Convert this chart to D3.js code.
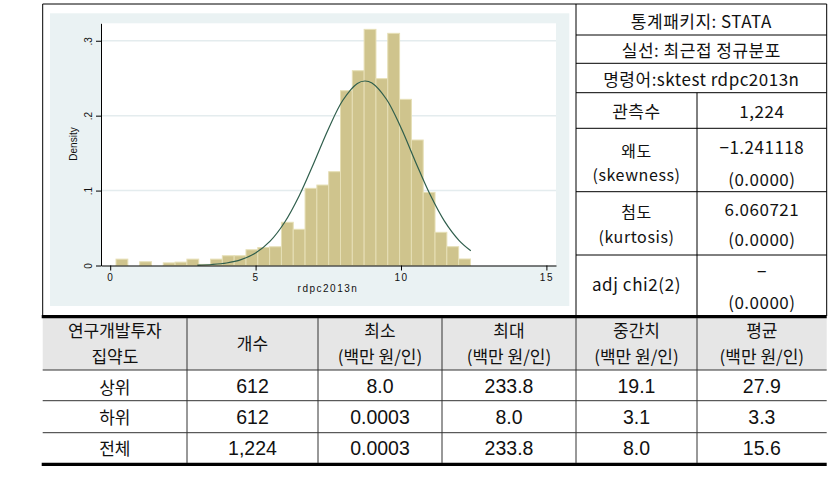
<!DOCTYPE html>
<html><head><meta charset="utf-8">
<script src="https://cdn.jsdelivr.net/npm/d3@7"></script>
<style>body{margin:0;background:#fff}svg{display:block}</style>
</head><body><svg id="c" width="839" height="491"></svg>
<script>
// ---------- data ----------
const binStart = 0.2;
const binWidth = 0.4063;
const densities = [0.0085,0,0.005,0,0.0035,0.0045,0.0085,0.0015,0.0085,0.013,0.013,0.021,0.024,0.025,0.0577,0.0483,0.103,0.1074,0.1252,0.2333,0.26,0.3152,0.2494,0.3099,0.2218,0.1675,0.0976,0.0443,0.0251,0.0087];
const curveX = [3,3.5,4,4.5,5,5.5,6,6.5,7,7.5,8,8.5,8.76,9,9.5,10,10.5,11,11.5,12,12.4];
const curveY = [0.0004,0.0013,0.0033,0.0078,0.0167,0.0325,0.0577,0.0931,0.1365,0.182,0.2206,0.2431,0.2463,0.2436,0.2219,0.1838,0.1383,0.0947,0.0589,0.0333,0.0197];
const xTicks = [0,5,10,15];
const yTicks = [0,0.1,0.2,0.3];
const yTickLabels = ["0",".1",".2",".3"];
const xTitle = "rdpc2013n";
const yTitle = "Density";

const infoRows = ["통계패키지: STATA","실선: 최근접 정규분포","명령어:sktest rdpc2013n"];
const statLabels = [["관측수"],["왜도","(skewness)"],["첨도","(kurtosis)"],["adj chi2(2)"]];
const statValues = [["1,224"],["−1.241118","(0.0000)"],["6.060721","(0.0000)"],["−","(0.0000)"]];

const colHeaders = [["연구개발투자","집약도"],["개수"],["최소","(백만 원/인)"],["최대","(백만 원/인)"],["중간치","(백만 원/인)"],["평균","(백만 원/인)"]];
const groups = ["상위","하위","전체"];
const counts = ["612","612","1,224"];
const minVals = ["8.0","0.0003","0.0003"];
const maxVals = ["233.8","8.0","233.8"];
const medVals = ["19.1","3.1","8.0"];
const meanVals = ["27.9","3.3","15.6"];

// ---------- layout ----------
const svg = d3.select("#c");
const KR = "'Noto Sans CJK KR', sans-serif";
const LAT = "'Liberation Sans', Arial, sans-serif";
const L = 42.7, R = 826.7, TOP = 4, MID = 576, SPLIT = 697;

// graph panel
svg.append("rect").attr("x",50).attr("y",13.3).attr("width",519.3).attr("height",292.7).attr("fill","#eaf2f3");
const pl = 101, pr = 556, pt = 23.3, pb = 265.5;
svg.append("rect").attr("x",pl).attr("y",pt).attr("width",pr-pl).attr("height",pb-pt).attr("fill","#fff");

const x = d3.scaleLinear().domain([-0.316,15.33]).range([pl,pr]);
const y = d3.scaleLinear().domain([0,0.3233]).range([pb,pt]);

// gridlines
svg.append("g").selectAll("line").data(yTicks.filter(d=>d>0)).join("line")
  .attr("x1",pl).attr("x2",pr).attr("y1",d=>y(d)).attr("y2",d=>y(d))
  .attr("stroke","#e4ecee").attr("stroke-width",1.5);

// bars
svg.append("g").selectAll("rect").data(densities).join("rect")
  .attr("x",(d,i)=>x(binStart+i*binWidth))
  .attr("width",(d,i)=>x(binStart+(i+1)*binWidth)-x(binStart+i*binWidth))
  .attr("y",d=>y(d)).attr("height",d=>y(0)-y(d))
  .attr("fill","#cfc48d").attr("stroke","#e6dfb6").attr("stroke-width",1)
  .attr("display",d=>d>0?null:"none");

// normal curve
const pts = curveX.map((v,i)=>[v,curveY[i]]);
svg.append("path").datum(pts)
  .attr("d",d3.line().x(d=>x(d[0])).y(d=>y(d[1])).curve(d3.curveCatmullRom))
  .attr("fill","none").attr("stroke","#2f5e4c").attr("stroke-width",1.2);

// axes
const gx = svg.append("g").attr("transform",`translate(0,${pb})`)
  .call(d3.axisBottom(x).tickValues(xTicks).tickSize(5).tickSizeOuter(0).tickFormat(d3.format("d")));
gx.selectAll("text").attr("y",12).attr("dy",null).attr("dominant-baseline","central")
  .attr("font-family",LAT).attr("font-size",10).attr("letter-spacing",1.5).attr("fill","#111");
const gy = svg.append("g").attr("transform",`translate(${pl},0)`)
  .call(d3.axisLeft(y).tickValues(yTicks).tickSize(5).tickSizeOuter(0).tickFormat((d,i)=>yTickLabels[i]));
gy.selectAll("text").attr("x",null).attr("dy",null)
  .attr("transform","translate(-13,0) rotate(-90)").attr("text-anchor","middle").attr("dominant-baseline","central")
  .attr("font-family",LAT).attr("font-size",10).attr("fill","#111");
svg.selectAll(".domain, .tick line").attr("stroke","#000");

svg.append("text").attr("x",328).attr("y",288.5).attr("text-anchor","middle").attr("dominant-baseline","central")
  .attr("font-family",LAT).attr("font-size",10).attr("letter-spacing",1.5).attr("fill","#111").text(xTitle);
svg.append("text").attr("transform","translate(73.5,144) rotate(-90)").attr("text-anchor","middle").attr("dominant-baseline","central")
  .attr("font-family",LAT).attr("font-size",10).attr("fill","#111").text(yTitle);

// ---------- right info table ----------
const ln = (x1,y1,x2,y2,w=1,c="#000")=>svg.append("line").attr("x1",x1).attr("y1",y1).attr("x2",x2).attr("y2",y2).attr("stroke",c).attr("stroke-width",w);
ln(L,TOP,R,TOP);
ln(L,TOP,L,316);
ln(MID,TOP,MID,316);
ln(R,TOP,R,316);
const hLines = [35,63.3,92.7,128.3,191.7,255];
hLines.forEach(v=>ln(MID,v,R,v));
ln(SPLIT,92.7,SPLIT,316);

const txt = (s,cx,cy,size,fam,ls=0)=>svg.append("text").attr("x",cx).attr("y",cy)
  .attr("text-anchor","middle").attr("dominant-baseline","central")
  .attr("font-family",fam).attr("font-size",size).attr("letter-spacing",ls).attr("fill","#111").text(s);

const infoY = [20,49.5,78];
infoRows.forEach((s,i)=>txt(s,(MID+R)/2,infoY[i],17,KR,0.5));
const lc = (MID+SPLIT)/2, vc = (SPLIT+R)/2;
const labelY = [[110],[149.5,174],[211,235.5],[283.3]];
const valueY = [[110],[146.7,178.3],[208.3,238.3],[270,301.7]];
statLabels.forEach((arr,i)=>arr.forEach((s,j)=>txt(s,lc,labelY[i][j],arr.length>1?16:17,KR,0.6)));
statValues.forEach((arr,i)=>arr.forEach((s,j)=>txt(s,vc,valueY[i][j],17,KR,0.5)));

// ---------- bottom table ----------
const cols = [L,187,318,442,MID,SPLIT,R];
svg.append("rect").attr("x",L).attr("y",317).attr("width",R-L).attr("height",53).attr("fill","#e6e6e6");
ln(L-1,316.7,R,316.7,3.3);
ln(L-1,464.3,R,464.3,3.3);
[370,400.7,432.7].forEach(v=>ln(L,v,R,v,1,"#333"));
cols.slice(1,-1).forEach(c=>ln(c,318,c,463,1,"#333"));
const cc = cols.slice(0,-1).map((c,i)=>(c+cols[i+1])/2);
colHeaders.forEach((arr,i)=>{
  if(arr.length===1) txt(arr[0],cc[i],342,17,KR);
  else arr.forEach((s,j)=>txt(s,cc[i],[329,355][j],17,KR));
});
const rowY = [386,416.7,447.7];
const rowsData = [groups,counts,minVals,maxVals,medVals,meanVals];
rowsData.forEach((col,ci)=>col.forEach((s,ri)=>txt(s,cc[ci],rowY[ri],ci===0?17:19.5,ci===0?KR:LAT)));
</script></body></html>
